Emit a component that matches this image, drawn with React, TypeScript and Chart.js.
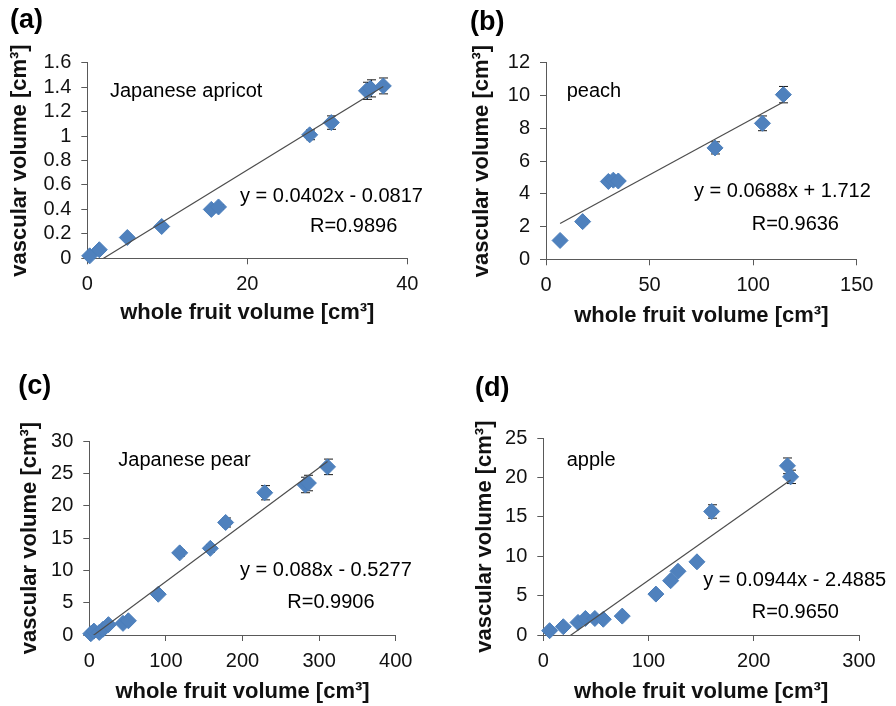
import React, { useEffect, useRef } from 'react';
import { Chart, registerables } from 'chart.js';

Chart.register(...registerables);

const FONT = '"Liberation Sans", Arial, Helvetica, sans-serif';
const AXIS = '#595959';
const BLUE = '#4f81bd';
const BLUE_EDGE = '#4a7ebb';
const TREND = '#4d4d4d';

// (a) Japanese apricot
const apricotX = [0.3, 1.5, 5.0, 9.3, 15.5, 16.4, 27.8, 30.5, 34.9, 35.4, 37.0];
const apricotY = [0.02, 0.07, 0.17, 0.26, 0.40, 0.42, 1.01, 1.11, 1.37, 1.39, 1.41];
const apricotErr = [0.01, 0.01, 0.02, 0.02, 0.02, 0.02, 0.04, 0.055, 0.07, 0.07, 0.065];
const apricotXTicks = [0, 20, 40];
const apricotYTicks = [0, 0.2, 0.4, 0.6, 0.8, 1, 1.2, 1.4, 1.6];

// (b) peach
const peachX = [6.8, 17.7, 30.1, 32.5, 34.9, 81.6, 104.5, 114.6];
const peachY = [1.15, 2.3, 4.75, 4.83, 4.78, 6.8, 8.3, 10.05];
const peachErr = [0.1, 0.15, 0.15, 0.15, 0.15, 0.37, 0.45, 0.5];
const peachXTicks = [0, 50, 100, 150];
const peachYTicks = [0, 2, 4, 6, 8, 10, 12];

// (c) Japanese pear
const pearX = [2, 6, 13, 18, 25, 44, 51, 90, 118, 158, 178, 229, 282, 286, 311];
const pearY = [0.2, 0.6, 0.4, 0.9, 1.6, 1.8, 2.2, 6.3, 12.7, 13.4, 17.4, 22.0, 23.2, 23.5, 26.0];
const pearErr = [0.2, 0.2, 0.2, 0.2, 0.2, 0.2, 0.2, 0.3, 0.5, 0.6, 0.7, 1.1, 1.2, 1.2, 1.2];
const pearXTicks = [0, 100, 200, 300, 400];
const pearYTicks = [0, 5, 10, 15, 20, 25, 30];

// (d) apple
const appleX = [6, 19, 33, 40, 49, 57, 75, 107, 121, 128, 146, 160, 232, 235];
const appleY = [0.55, 1.05, 1.6, 2.1, 2.1, 2.0, 2.4, 5.2, 6.9, 8.1, 9.3, 15.7, 21.5, 20.1];
const appleErr = [0.2, 0.2, 0.2, 0.2, 0.2, 0.2, 0.2, 0.3, 0.3, 0.3, 0.3, 0.85, 1.0, 0.85];
const appleXTicks = [0, 100, 200, 300];
const appleYTicks = [0, 5, 10, 15, 20, 25];

// regression coefficients as printed
const slopes = [0.0402, 0.0688, 0.088, 0.0944];
const intercepts = [-0.0817, 1.712, -0.5277, -2.4885];
const fruitNames = ['Japanese apricot', 'peach', 'Japanese pear', 'apple'];
const equations = ['y = 0.0402x - 0.0817', 'y = 0.0688x + 1.712', 'y = 0.088x - 0.5277', 'y = 0.0944x - 2.4885'];
const rValues = ['R=0.9896', 'R=0.9636', 'R=0.9906', 'R=0.9650'];
const panelLabels = ['(a)', '(b)', '(c)', '(d)'];

const X_TITLE = 'whole fruit volume [cm\u00b3]';
const Y_TITLE = 'vascular volume [cm\u00b3]';

type Layout = {
  left: number; top: number; w: number; h: number;
  area: [number, number, number, number]; // l, t, r, b (canvas coords)
  yTitlePad: number; xTitlePad: number;
  labelPos: [number, number]; namePos: [number, number]; eqPos: [number, number]; rPos: [number, number];
};

const layouts: Layout[] = [
  { left: 0, top: 0, w: 440, h: 340, area: [87.3, 62.7, 407.3, 258.3], yTitlePad: 6.8, xTitlePad: 13.8,
    labelPos: [10, 21], namePos: [110, 96.7], eqPos: [240, 201.7], rPos: [310, 231.7] },
  { left: 440, top: 0, w: 456, h: 340, area: [106, 62.7, 416.7, 259.3], yTitlePad: 28.5, xTitlePad: 10.8,
    labelPos: [30, 22.5], namePos: [126.7, 96.7], eqPos: [254, 197.3], rPos: [311.7, 230] },
  { left: 0, top: 350, w: 440, h: 356, area: [89.3, 91, 395.7, 285], yTitlePad: 16.8, xTitlePad: 0.4,
    labelPos: [18.3, 36.7], namePos: [118.3, 116], eqPos: [240, 226], rPos: [287.3, 258.3] },
  { left: 440, top: 350, w: 456, h: 356, area: [103.3, 88.3, 419, 285], yTitlePad: 31.8, xTitlePad: 0.4,
    labelPos: [35, 38.3], namePos: [126.7, 116], eqPos: [263.3, 236], rPos: [311.7, 268.3] },
];

const series = [
  { xs: apricotX, ys: apricotY, errs: apricotErr, xTicks: apricotXTicks, yTicks: apricotYTicks },
  { xs: peachX, ys: peachY, errs: peachErr, xTicks: peachXTicks, yTicks: peachYTicks },
  { xs: pearX, ys: pearY, errs: pearErr, xTicks: pearXTicks, yTicks: pearYTicks },
  { xs: appleX, ys: appleY, errs: appleErr, xTicks: appleXTicks, yTicks: appleYTicks },
];

function Panel({ idx }: { idx: number }) {
  const ref = useRef<HTMLCanvasElement | null>(null);
  const L = layouts[idx];
  useEffect(() => {
    const s = series[idx];
    const m = slopes[idx];
    const b = intercepts[idx];
    const xmin = Math.min(...s.xs);
    const xmax = Math.max(...s.xs);
    const [al, at, ar, ab] = L.area;

    const points = s.xs.map((x, i) => ({ x, y: s.ys[i] }));
    const trend = [
      { x: xmin, y: m * xmin + b },
      { x: xmax, y: m * xmax + b },
    ];

    const errPlugin = {
      id: 'errbars' + idx,
      beforeDatasetsDraw(chart: any) {
        const ctx = chart.ctx;
        const xs = chart.scales.x;
        const ys = chart.scales.y;
        ctx.save();
        ctx.strokeStyle = '#1a1a1a';
        ctx.lineWidth = 1;
        s.xs.forEach((x, i) => {
          const px = Math.round(xs.getPixelForValue(x)) + 0.5;
          const t = ys.getPixelForValue(s.ys[i] + s.errs[i]);
          const bt = ys.getPixelForValue(s.ys[i] - s.errs[i]);
          ctx.beginPath();
          ctx.moveTo(px, t); ctx.lineTo(px, bt);
          ctx.moveTo(px - 4.5, t); ctx.lineTo(px + 4.5, t);
          ctx.moveTo(px - 4.5, bt); ctx.lineTo(px + 4.5, bt);
          ctx.stroke();
        });
        ctx.restore();
      },
      afterDraw(chart: any) {
        const ctx = chart.ctx;
        ctx.save();
        ctx.fillStyle = '#000';
        ctx.textAlign = 'left';
        ctx.textBaseline = 'middle';
        ctx.font = `bold 27px ${FONT}`;
        ctx.fillText(panelLabels[idx], L.labelPos[0], L.labelPos[1]);
        ctx.textBaseline = 'alphabetic';
        ctx.font = `20px ${FONT}`;
        ctx.fillText(fruitNames[idx], L.namePos[0], L.namePos[1]);
        ctx.fillText(equations[idx], L.eqPos[0], L.eqPos[1]);
        ctx.fillText(rValues[idx], L.rPos[0], L.rPos[1]);
        ctx.restore();
      },
    };

    const axisCommon = {
      grid: { display: true, drawOnChartArea: false, drawTicks: true, tickLength: 6, color: AXIS, lineWidth: 1 },
      border: { display: true, color: AXIS, width: 1 },
    };

    const chart = new Chart(ref.current as HTMLCanvasElement, {
      type: 'scatter',
      data: {
        datasets: [
          {
            type: 'line',
            data: trend,
            showLine: true,
            borderColor: TREND,
            borderWidth: 1.2,
            pointRadius: 0,
            fill: false,
          } as any,
          {
            data: points,
            pointStyle: 'rectRot',
            pointRadius: 8,
            pointHoverRadius: 8,
            backgroundColor: BLUE,
            borderColor: BLUE_EDGE,
            borderWidth: 1,
            clip: false,
          } as any,
        ],
      },
      options: {
        animation: false,
        responsive: false,
        maintainAspectRatio: false,
        events: [],
        layout: { padding: { left: 0, top: at, right: L.w - ar, bottom: 0 } },
        plugins: { legend: { display: false }, tooltip: { enabled: false } },
        scales: {
          x: {
            type: 'linear',
            position: 'bottom',
            min: s.xTicks[0],
            max: s.xTicks[s.xTicks.length - 1],
            afterBuildTicks: (sc: any) => { sc.ticks = s.xTicks.map((v) => ({ value: v })); },
            afterFit: (sc: any) => { sc.height = L.h - ab; },
            ticks: {
              autoSkip: false, maxRotation: 0, padding: 8, color: '#111',
              font: { family: FONT, size: 20 },
              callback: (v: any) => String(v),
            },
            title: {
              display: true, text: X_TITLE, color: '#111',
              font: { family: FONT, size: 22, weight: 'bold' },
              padding: { top: 0, bottom: L.xTitlePad },
            },
            ...axisCommon,
          },
          y: {
            type: 'linear',
            position: 'left',
            min: s.yTicks[0],
            max: s.yTicks[s.yTicks.length - 1],
            afterBuildTicks: (sc: any) => { sc.ticks = s.yTicks.map((v) => ({ value: v })); },
            afterFit: (sc: any) => { sc.width = al; },
            ticks: {
              autoSkip: false, padding: 10, color: '#111',
              font: { family: FONT, size: 20 },
              callback: (v: any) => String(v),
            },
            title: {
              display: true, text: Y_TITLE, color: '#111',
              font: { family: FONT, size: 22, weight: 'bold' },
              padding: { top: L.yTitlePad, bottom: 0 },
            },
            ...axisCommon,
          },
        },
      } as any,
      plugins: [errPlugin],
    });
    return () => chart.destroy();
  }, [idx]);

  return (
    <canvas
      ref={ref}
      width={L.w}
      height={L.h}
      style={{ position: 'absolute', left: L.left, top: L.top, width: L.w, height: L.h }}
    />
  );
}

export default function App() {
  return (
    <div style={{ position: 'absolute', left: 0, top: 0, width: 896, height: 706, background: '#fff', overflow: 'hidden' }}>
      {[0, 1, 2, 3].map((i) => (
        <Panel key={i} idx={i} />
      ))}
    </div>
  );
}
